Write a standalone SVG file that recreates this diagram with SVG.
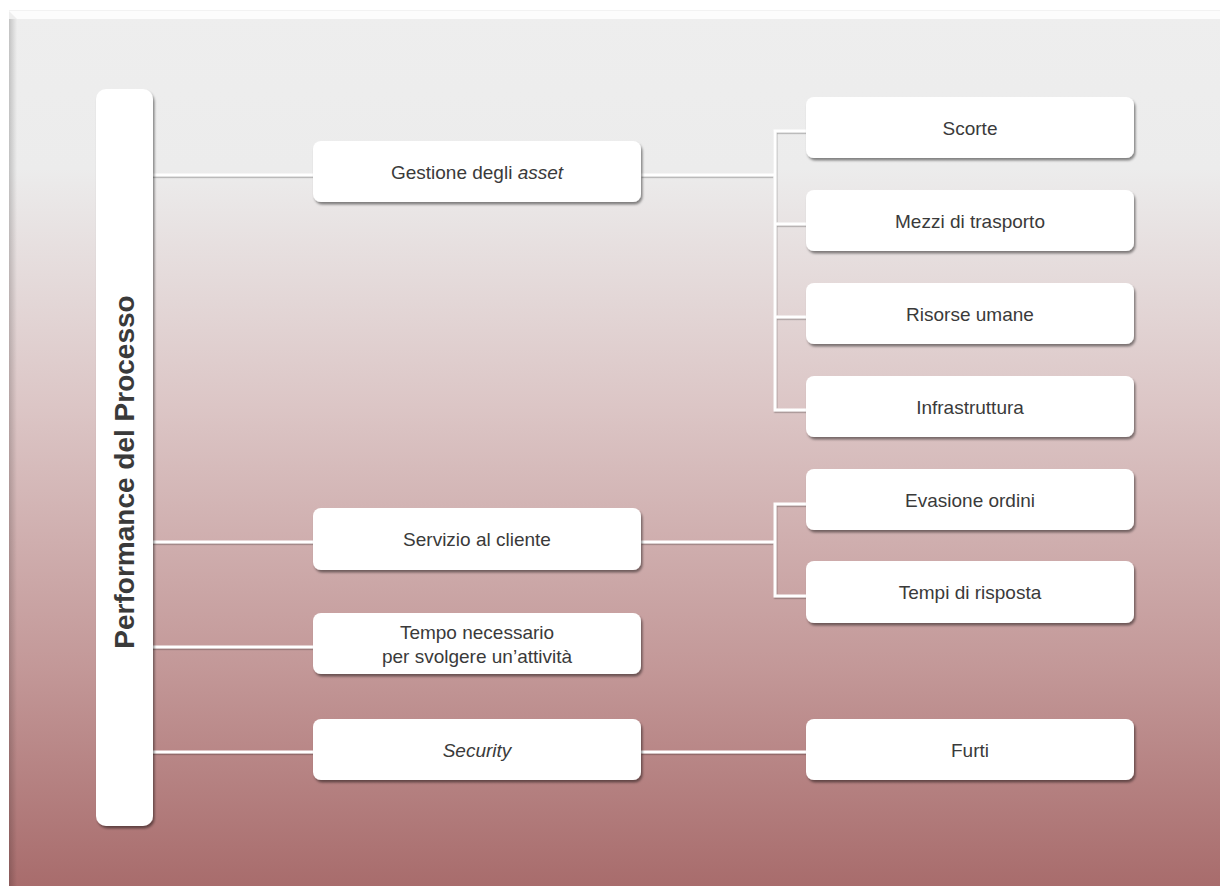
<svg xmlns="http://www.w3.org/2000/svg" width="1220" height="886" viewBox="0 0 1220 886">
  <defs>
    <linearGradient id="bg" x1="0" y1="0" x2="0" y2="1">
      <stop offset="0" stop-color="#eeeeee"/>
      <stop offset="0.18" stop-color="#ececec"/>
      <stop offset="0.45" stop-color="#dcc6c6"/>
      <stop offset="0.75" stop-color="#c39898"/>
      <stop offset="1" stop-color="#a86c6c"/>
    </linearGradient>
    <linearGradient id="leftShade" x1="0" y1="0" x2="1" y2="0">
      <stop offset="0" stop-color="#000" stop-opacity="0.18"/>
      <stop offset="1" stop-color="#000" stop-opacity="0"/>
    </linearGradient>
    <filter id="shadow" x="-10%" y="-20%" width="120%" height="150%">
      <feDropShadow dx="1.5" dy="2.5" stdDeviation="1.3" flood-color="#000" flood-opacity="0.45"/>
    </filter>
    <!-- user-space region so straight lines (zero-height boxes) still render -->
    <filter id="lineShadow" filterUnits="userSpaceOnUse" x="0" y="0" width="1220" height="886">
      <feDropShadow dx="0.6" dy="1.2" stdDeviation="0.6" flood-color="#000" flood-opacity="0.35"/>
    </filter>
  </defs>
  <style>
    .box { fill: #ffffff; filter: url(#shadow); }
    .lbl { font-family: "Liberation Sans", Arial, sans-serif; font-size: 19px; fill: #3a3a3a; text-anchor: middle; }
    .it { font-style: italic; }
    .root { font-family: "Liberation Sans", Arial, sans-serif; font-size: 28px; font-weight: bold; fill: #3a3a3a; text-anchor: middle; }
    .conn { fill: none; stroke: #ffffff; stroke-width: 3; }
  </style>

  <!-- backdrop panel -->
  <rect x="0" y="0" width="1220" height="886" fill="#ffffff"/>
  <rect x="9" y="11" width="1211" height="875" fill="url(#bg)"/>
  <polygon points="9,11 1220,11 1220,19 17,19" fill="#fcfcfc"/>
  <line x1="9" y1="10.5" x2="1220" y2="10.5" stroke="#f2f2f2" stroke-width="1"/>
  <rect x="9" y="19" width="8" height="867" fill="url(#leftShade)"/>

  <!-- connectors -->
  <g id="connectors" filter="url(#lineShadow)">
    <path class="conn" d="M150,175 H313"/>
    <path class="conn" d="M150,542 H313"/>
    <path class="conn" d="M150,647 H313"/>
    <path class="conn" d="M150,752 H313"/>
    <path class="conn" d="M641,175 H775"/>
    <path class="conn" d="M806,131 H775 V410 H806"/>
    <path class="conn" d="M775,224 H806"/>
    <path class="conn" d="M775,317 H806"/>
    <path class="conn" d="M641,542 H775"/>
    <path class="conn" d="M806,504 H775 V596 H806"/>
    <path class="conn" d="M641,752 H806"/>
  </g>

  <!-- root -->
  <g id="root">
    <rect class="box" x="96" y="89" width="57" height="737" rx="10"/>
    <text class="root" transform="translate(134,472) rotate(-90)">Performance del Processo</text>
  </g>

  <!-- first level -->
  <g id="gestione">
    <rect class="box" x="313" y="141" width="328" height="61" rx="8"/>
    <text class="lbl" x="477" y="179">Gestione degli <tspan class="it">asset</tspan></text>
  </g>
  <g id="servizio">
    <rect class="box" x="313" y="508" width="328" height="62" rx="8"/>
    <text class="lbl" x="477" y="546">Servizio al cliente</text>
  </g>
  <g id="tempo">
    <rect class="box" x="313" y="613" width="328" height="61" rx="8"/>
    <text class="lbl" x="477" y="639">Tempo necessario</text>
    <text class="lbl" x="477" y="663">per svolgere un’attività</text>
  </g>
  <g id="security">
    <rect class="box" x="313" y="719" width="328" height="61" rx="8"/>
    <text class="lbl it" x="477" y="757">Security</text>
  </g>

  <!-- second level -->
  <g id="scorte">
    <rect class="box" x="806" y="97" width="328" height="61" rx="8"/>
    <text class="lbl" x="970" y="135">Scorte</text>
  </g>
  <g id="mezzi">
    <rect class="box" x="806" y="190" width="328" height="61" rx="8"/>
    <text class="lbl" x="970" y="228">Mezzi di trasporto</text>
  </g>
  <g id="risorse">
    <rect class="box" x="806" y="283" width="328" height="61" rx="8"/>
    <text class="lbl" x="970" y="321">Risorse umane</text>
  </g>
  <g id="infrastruttura">
    <rect class="box" x="806" y="376" width="328" height="61" rx="8"/>
    <text class="lbl" x="970" y="414">Infrastruttura</text>
  </g>
  <g id="evasione">
    <rect class="box" x="806" y="469" width="328" height="61" rx="8"/>
    <text class="lbl" x="970" y="507">Evasione ordini</text>
  </g>
  <g id="tempi">
    <rect class="box" x="806" y="561" width="328" height="62" rx="8"/>
    <text class="lbl" x="970" y="599">Tempi di risposta</text>
  </g>
  <g id="furti">
    <rect class="box" x="806" y="719" width="328" height="61" rx="8"/>
    <text class="lbl" x="970" y="757">Furti</text>
  </g>
</svg>
